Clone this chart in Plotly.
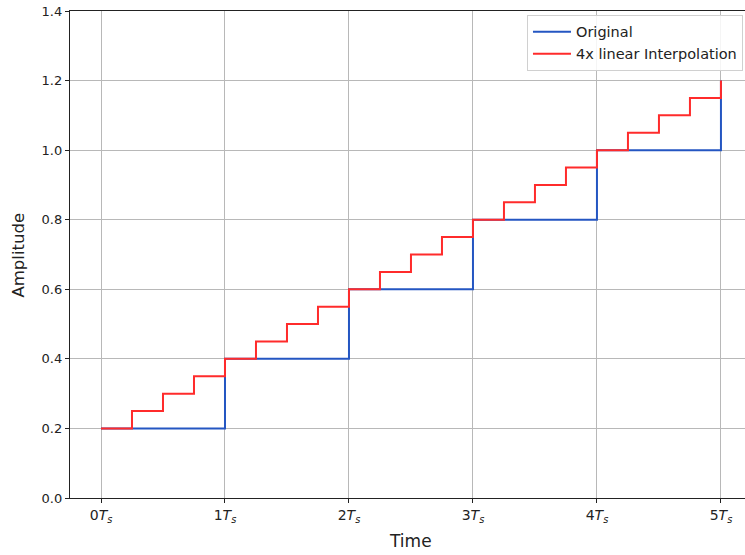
import plotly.graph_objects as go

# Sample instants (in units of Ts) and amplitudes
t_orig = [0, 1, 2, 3, 4, 5]
a_orig = [0.2, 0.4, 0.6, 0.8, 1.0, 1.2]

t_interp = [0, 0.25, 0.5, 0.75, 1, 1.25, 1.5, 1.75, 2, 2.25, 2.5, 2.75,
            3, 3.25, 3.5, 3.75, 4, 4.25, 4.5, 4.75, 5]
a_interp = [0.2, 0.25, 0.3, 0.35, 0.4, 0.45, 0.5, 0.55, 0.6, 0.65, 0.7, 0.75,
            0.8, 0.85, 0.9, 0.95, 1.0, 1.05, 1.1, 1.15, 1.2]

x_tick_vals = [0, 1, 2, 3, 4, 5]
x_tick_text = [f"{k}<i>T<sub>s</sub></i>" for k in x_tick_vals]
y_tick_vals = [0.0, 0.2, 0.4, 0.6, 0.8, 1.0, 1.2, 1.4]
y_tick_text = ["0.0", "0.2", "0.4", "0.6", "0.8", "1.0", "1.2", "1.4"]

W, H = 745, 555
L, R, T, B = 70, 0, 11, 57

fig = go.Figure()
fig.add_trace(go.Scatter(
    x=t_orig, y=a_orig, mode="lines", name="Original",
    line=dict(color="#2456c2", width=2, shape="hv"),
))
fig.add_trace(go.Scatter(
    x=t_interp, y=a_interp, mode="lines", name="4x linear Interpolation",
    line=dict(color="#ff2b2b", width=2, shape="hv"),
))

font = "DejaVu Sans"
fig.update_layout(
    width=W, height=H,
    margin=dict(l=L, r=R, t=T, b=B),
    paper_bgcolor="white", plot_bgcolor="white",
    font=dict(family=font, size=12, color="#222222"),
    showlegend=True,
    legend=dict(
        x=0.997, y=0.992, xanchor="right", yanchor="top",
        bgcolor="rgba(255,255,255,0.85)", bordercolor="#d0d0d0", borderwidth=1,
        font=dict(family=font, size=14.5, color="#222222"),
        itemwidth=38, tracegroupgap=0,
    ),
    xaxis=dict(
        range=[-0.25, 5.194],
        tickmode="array", tickvals=x_tick_vals, ticktext=x_tick_text,
        showgrid=True, gridcolor="#b8b8b8", gridwidth=1, zeroline=False,
        showline=True, linecolor="#222222", linewidth=1.3, mirror=True,
        ticks="outside", ticklen=4, tickcolor="#222222",
        tickfont=dict(family=font, size=14, color="#222222"),
    ),
    yaxis=dict(
        range=[0, 1.4],
        tickmode="array", tickvals=y_tick_vals, ticktext=y_tick_text,
        showgrid=True, gridcolor="#b8b8b8", gridwidth=1, zeroline=False,
        showline=True, linecolor="#222222", linewidth=1.3, mirror=False,
        ticks="outside", ticklen=4, tickcolor="#222222",
        tickfont=dict(family=font, size=13, color="#222222"),
    ),
    annotations=[
        dict(text="Time", xref="paper", yref="paper",
             x=(410.5 - L) / (W - L - R), y=-(541 - (H - B)) / (H - T - B),
             xanchor="center", yanchor="middle", showarrow=False,
             font=dict(family=font, size=17, color="#222222")),
        dict(text="Amplitude", xref="paper", yref="paper",
             x=-(L - 18) / (W - L - R), y=0.5, textangle=-90,
             xanchor="center", yanchor="middle", showarrow=False,
             font=dict(family=font, size=16.5, color="#222222")),
    ],
)

fig.write_html("out.html")
